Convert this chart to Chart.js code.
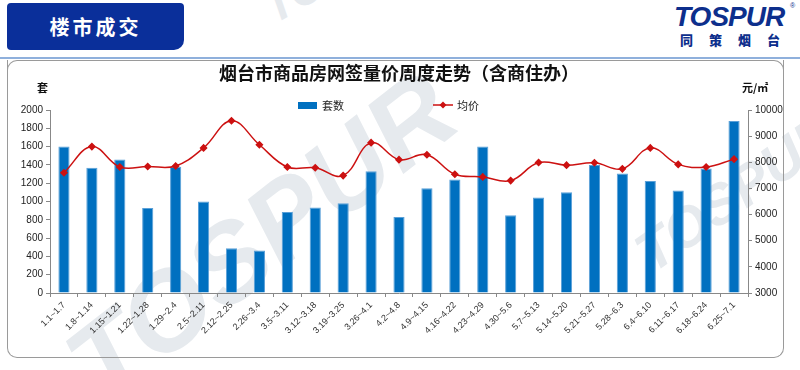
<!DOCTYPE html>
<html>
<head>
<meta charset="utf-8">
<script src="https://cdn.jsdelivr.net/npm/chart.js@4.4.1/dist/chart.umd.min.js"></script>
<style>
  body { margin: 0; width: 800px; height: 370px; position: relative; overflow: hidden; background: #fff;
         font-family: "Liberation Sans", "Noto Sans CJK SC", sans-serif; }
  .tag { position: absolute; left: 7px; top: 3px; width: 177px; height: 47px; background: #0a2f9a;
         border-radius: 4px 4px 10px 4px; color: #fff; font: bold 20px "Noto Sans CJK SC"; letter-spacing: 3px;
         line-height: 47px; text-align: center; }
  .rule { position: absolute; left: 0; top: 57px; width: 800px; height: 2px; background: #8fb0dc; }
  .logo { position: absolute; left: 674px; top: 2px; width: 122px; color: #0d2f8c; }
  .logo .en { font: italic 900 28px "Liberation Sans"; letter-spacing: -1px; line-height: 30px; }
  .logo .cn { font: 900 13px "Noto Sans CJK SC"; letter-spacing: 16px; line-height: 16px; padding-left: 6px; }
  .logo .r { position: absolute; left: 116px; top: 0; font-size: 7px; }
  .frame { position: absolute; left: 7px; top: 60px; width: 775px; height: 297px; border: 1.5px solid #9a9a9a;
           border-top: none; border-radius: 0 0 10px 10px; }
  .frame2 { position: absolute; left: 7px; top: 60px; width: 775px; height: 12px; border: 1.5px solid #9a9a9a;
            border-bottom: none; border-radius: 10px 10px 0 0; }
  .wm { position: absolute; color: #e6eaee; font: italic 900 70px "Liberation Sans"; transform-origin: left bottom; }
  canvas { position: absolute; left: 0; top: 0; }
</style>
</head>
<body>
<div class="wm" style="left:120px;top:300px;font-size:110px;transform:rotate(-38deg)">TOSPUR</div>
<div class="wm" style="left:280px;top:-20px;font-size:46px;transform:rotate(-30deg)">TOSPUR</div>
<div class="wm" style="left:660px;top:220px;font-size:56px;transform:rotate(-35deg)">TOSPUR</div>
<div class="tag">楼市成交</div>
<div class="rule"></div>
<div class="logo"><div class="en">TOSPUR</div><div class="cn">同策烟台</div><span class="r">®</span></div>
<div class="frame2"></div>
<div class="frame"></div>
<canvas id="myChart" width="800" height="370"></canvas>
<script>
// weekly labels and values
var weeks = ["1.1~1.7", "1.8~1.14", "1.15~1.21", "1.22~1.28", "1.29~2.4", "2.5~2.11", "2.12~2.25",
  "2.26~3.4", "3.5~3.11", "3.12~3.18", "3.19~3.25", "3.26~4.1", "4.2~4.8", "4.9~4.15", "4.16~4.22",
  "4.23~4.29", "4.30~5.6", "5.7~5.13", "5.14~5.20", "5.21~5.27", "5.28~6.3", "6.4~6.10", "6.11~6.17",
  "6.18~6.24", "6.25~7.1"];
var units = [1600, 1370, 1460, 930, 1380, 1000, 490, 465, 885, 935, 980, 1330, 830, 1145, 1240,
  1600, 850, 1045, 1100, 1400, 1305, 1225, 1120, 1360, 1880];
var prices = [7600, 8600, 7820, 7840, 7860, 8550, 9590, 8670, 7820, 7790, 7490, 8750, 8100, 8290, 7540,
  7440, 7300, 7990, 7890, 7980, 7750, 8550, 7920, 7820, 8120];
var title = "烟台市商品房网签量价周度走势（含商住办）";

var BLUE = "#0070c0";
var RED = "#cc1111";

// title, unit labels and legend drawn on the canvas
var extras = {
  id: "extras",
  afterDraw: function (chart) {
    var c = chart.ctx;
    var a = chart.chartArea;
    var mid = (a.left + a.right) / 2;
    c.save();
    c.fillStyle = "#111";
    c.font = 'bold 18px "Noto Sans CJK SC"';
    c.textAlign = "center";
    c.textBaseline = "middle";
    c.fillText(title, mid, 73);

    c.font = 'bold 11px "Noto Sans CJK SC"';
    c.textAlign = "left";
    c.fillText("套", 37, 88);
    c.fillText("元/㎡", 742, 88);

    // legend
    var ly = 105;
    c.font = '11px "Noto Sans CJK SC"';
    c.fillStyle = BLUE;
    c.fillRect(mid - 101, ly - 3, 19, 7);
    c.fillStyle = "#222";
    c.fillText(chart.data.datasets[1].label, mid - 77, ly + 1);
    c.strokeStyle = RED;
    c.lineWidth = 1.5;
    c.beginPath();
    c.moveTo(mid + 34, ly);
    c.lineTo(mid + 54, ly);
    c.stroke();
    c.fillStyle = RED;
    c.beginPath();
    c.moveTo(mid + 44, ly - 3.5);
    c.lineTo(mid + 47.5, ly);
    c.lineTo(mid + 44, ly + 3.5);
    c.lineTo(mid + 40.5, ly);
    c.closePath();
    c.fill();
    c.fillStyle = "#222";
    c.fillText(chart.data.datasets[0].label, mid + 58, ly + 1);
    c.restore();
  }
};

Chart.defaults.font.family = '"Liberation Sans", "Noto Sans CJK SC", sans-serif';
Chart.defaults.color = "#222";

function plain(v) { return String(v); }

var ctx = document.getElementById("myChart").getContext("2d");
var myChart = new Chart(ctx, {
  type: "bar",
  data: {
    labels: weeks,
    datasets: [
      {
        type: "line",
        label: "均价",
        data: prices,
        yAxisID: "y1",
        borderColor: RED,
        borderWidth: 1.5,
        backgroundColor: RED,
        pointStyle: "rectRot",
        pointRadius: 3,
        tension: 0.4,
        order: 0
      },
      {
        label: "套数",
        data: units,
        yAxisID: "y",
        backgroundColor: BLUE,
        borderColor: "#5aa0d8",
        borderWidth: { top: 1, left: 1, right: 1, bottom: 0 },
        categoryPercentage: 1,
        barPercentage: 0.4,
        order: 1
      }
    ]
  },
  plugins: [extras],
  options: {
    responsive: false,
    animation: false,
    devicePixelRatio: 1,
    layout: { padding: { top: 110, left: 0, right: 0, bottom: 0 } },
    plugins: {
      legend: { display: false },
      title: { display: false },
      tooltip: { enabled: false }
    },
    scales: {
      x: {
        grid: { drawOnChartArea: false, tickLength: 4, color: "#888", offset: true },
        border: { color: "#888" },
        ticks: { minRotation: 45, maxRotation: 45, autoSkip: false, padding: 3,
                 font: { size: 9 }, color: "#333" },
        afterFit: function (s) { s.height = 77; }
      },
      y: {
        position: "left",
        min: 0,
        max: 2000,
        grid: { drawOnChartArea: false, tickLength: 4, color: "#888" },
        border: { color: "#888" },
        ticks: { stepSize: 200, padding: 3, font: { size: 10 }, color: "#222", callback: plain },
        afterFit: function (s) { s.width = 50; }
      },
      y1: {
        position: "right",
        min: 3000,
        max: 10000,
        grid: { drawOnChartArea: false, tickLength: 4, color: "#888" },
        border: { color: "#888" },
        ticks: { stepSize: 1000, padding: 3, font: { size: 10 }, color: "#222", callback: plain },
        afterFit: function (s) { s.width = 52; }
      }
    }
  }
});
</script>
</body>
</html>
